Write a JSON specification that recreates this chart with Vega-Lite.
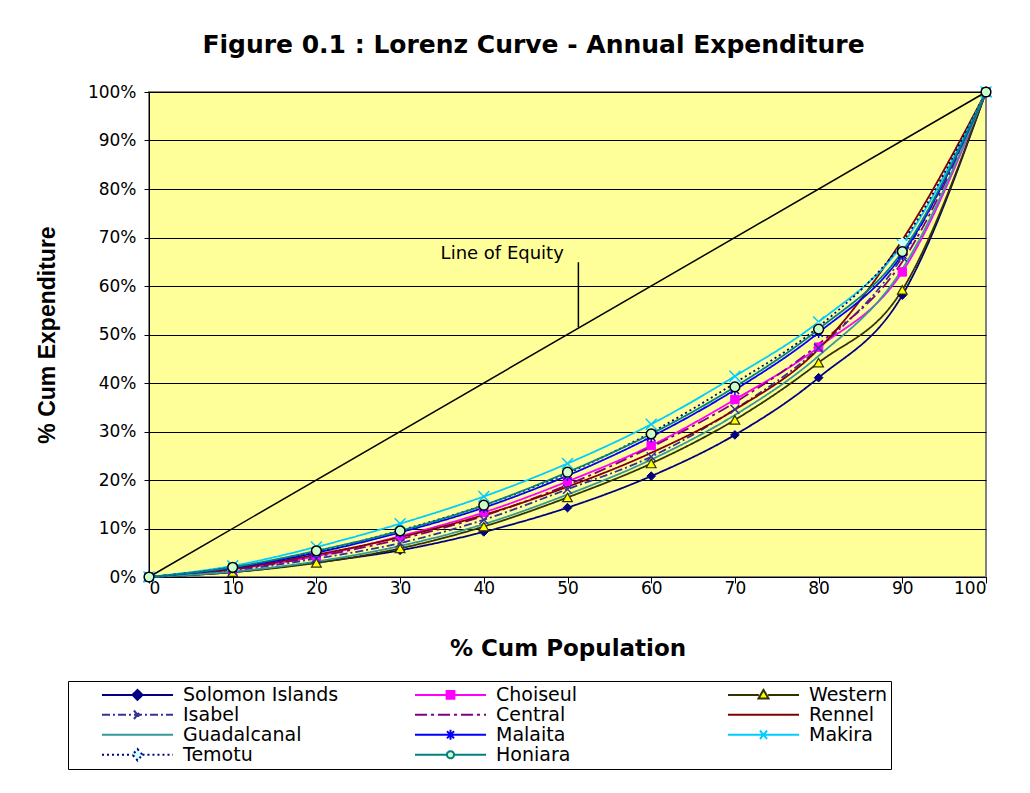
{
  "$schema": "https://vega.github.io/schema/vega-lite/v6.json",
  "autosize": {"type": "none"},
  "width": 837,
  "height": 485,
  "padding": {"left": 149, "top": 92, "right": 44, "bottom": 216},
  "background": "white",
  "title": {
    "text": "Figure 0.1 : Lorenz Curve - Annual Expenditure",
    "font": "DejaVu Sans",
    "fontSize": 25,
    "fontWeight": "bold",
    "color": "black",
    "anchor": "middle",
    "dx": -34,
    "offset": 25
  },
  "datasets": {
    "curves": [
      {"series": "Solomon Islands", "x": 0, "y": 0}, {"series": "Solomon Islands", "x": 10, "y": 1.0}, {"series": "Solomon Islands", "x": 20, "y": 3.0}, {"series": "Solomon Islands", "x": 30, "y": 5.5}, {"series": "Solomon Islands", "x": 40, "y": 9.3}, {"series": "Solomon Islands", "x": 50, "y": 14.3}, {"series": "Solomon Islands", "x": 60, "y": 20.8}, {"series": "Solomon Islands", "x": 70, "y": 29.3}, {"series": "Solomon Islands", "x": 80, "y": 41.1}, {"series": "Solomon Islands", "x": 90, "y": 58.1}, {"series": "Solomon Islands", "x": 100, "y": 100},
      {"series": "Choiseul", "x": 0, "y": 0}, {"series": "Choiseul", "x": 10, "y": 1.6}, {"series": "Choiseul", "x": 20, "y": 4.3}, {"series": "Choiseul", "x": 30, "y": 8.4}, {"series": "Choiseul", "x": 40, "y": 13.3}, {"series": "Choiseul", "x": 50, "y": 19.7}, {"series": "Choiseul", "x": 60, "y": 27.1}, {"series": "Choiseul", "x": 70, "y": 36.6}, {"series": "Choiseul", "x": 80, "y": 47.4}, {"series": "Choiseul", "x": 90, "y": 62.9}, {"series": "Choiseul", "x": 100, "y": 100},
      {"series": "Western", "x": 0, "y": 0}, {"series": "Western", "x": 10, "y": 1.0}, {"series": "Western", "x": 20, "y": 2.9}, {"series": "Western", "x": 30, "y": 5.9}, {"series": "Western", "x": 40, "y": 10.4}, {"series": "Western", "x": 50, "y": 16.4}, {"series": "Western", "x": 60, "y": 23.4}, {"series": "Western", "x": 70, "y": 32.4}, {"series": "Western", "x": 80, "y": 44.2}, {"series": "Western", "x": 90, "y": 59.2}, {"series": "Western", "x": 100, "y": 100},
      {"series": "Isabel", "x": 0, "y": 0}, {"series": "Isabel", "x": 10, "y": 1.3}, {"series": "Isabel", "x": 20, "y": 3.8}, {"series": "Isabel", "x": 30, "y": 7.0}, {"series": "Isabel", "x": 40, "y": 11.8}, {"series": "Isabel", "x": 50, "y": 18.1}, {"series": "Isabel", "x": 60, "y": 24.8}, {"series": "Isabel", "x": 70, "y": 34.6}, {"series": "Isabel", "x": 80, "y": 47.2}, {"series": "Isabel", "x": 90, "y": 66.0}, {"series": "Isabel", "x": 100, "y": 100},
      {"series": "Central", "x": 0, "y": 0}, {"series": "Central", "x": 10, "y": 1.5}, {"series": "Central", "x": 20, "y": 4.2}, {"series": "Central", "x": 30, "y": 7.8}, {"series": "Central", "x": 40, "y": 12.6}, {"series": "Central", "x": 50, "y": 19.0}, {"series": "Central", "x": 60, "y": 26.8}, {"series": "Central", "x": 70, "y": 36.0}, {"series": "Central", "x": 80, "y": 48.0}, {"series": "Central", "x": 90, "y": 65.0}, {"series": "Central", "x": 100, "y": 100},
      {"series": "Rennel", "x": 0, "y": 0}, {"series": "Rennel", "x": 10, "y": 1.7}, {"series": "Rennel", "x": 20, "y": 4.6}, {"series": "Rennel", "x": 30, "y": 8.2}, {"series": "Rennel", "x": 40, "y": 12.8}, {"series": "Rennel", "x": 50, "y": 18.6}, {"series": "Rennel", "x": 60, "y": 25.6}, {"series": "Rennel", "x": 70, "y": 34.5}, {"series": "Rennel", "x": 80, "y": 47.0}, {"series": "Rennel", "x": 90, "y": 69.5}, {"series": "Rennel", "x": 100, "y": 100},
      {"series": "Guadalcanal", "x": 0, "y": 0}, {"series": "Guadalcanal", "x": 10, "y": 1.1}, {"series": "Guadalcanal", "x": 20, "y": 3.2}, {"series": "Guadalcanal", "x": 30, "y": 6.4}, {"series": "Guadalcanal", "x": 40, "y": 10.9}, {"series": "Guadalcanal", "x": 50, "y": 17.0}, {"series": "Guadalcanal", "x": 60, "y": 24.2}, {"series": "Guadalcanal", "x": 70, "y": 33.4}, {"series": "Guadalcanal", "x": 80, "y": 45.6}, {"series": "Guadalcanal", "x": 90, "y": 63.5}, {"series": "Guadalcanal", "x": 100, "y": 100},
      {"series": "Malaita", "x": 0, "y": 0}, {"series": "Malaita", "x": 10, "y": 1.9}, {"series": "Malaita", "x": 20, "y": 5.0}, {"series": "Malaita", "x": 30, "y": 9.2}, {"series": "Malaita", "x": 40, "y": 14.3}, {"series": "Malaita", "x": 50, "y": 20.9}, {"series": "Malaita", "x": 60, "y": 28.9}, {"series": "Malaita", "x": 70, "y": 38.6}, {"series": "Malaita", "x": 80, "y": 50.4}, {"series": "Malaita", "x": 90, "y": 66.5}, {"series": "Malaita", "x": 100, "y": 100},
      {"series": "Makira", "x": 0, "y": 0}, {"series": "Makira", "x": 10, "y": 2.3}, {"series": "Makira", "x": 20, "y": 6.2}, {"series": "Makira", "x": 30, "y": 11.0}, {"series": "Makira", "x": 40, "y": 16.6}, {"series": "Makira", "x": 50, "y": 23.4}, {"series": "Makira", "x": 60, "y": 31.5}, {"series": "Makira", "x": 70, "y": 41.4}, {"series": "Makira", "x": 80, "y": 52.6}, {"series": "Makira", "x": 90, "y": 68.5}, {"series": "Makira", "x": 100, "y": 100},
      {"series": "Temotu", "x": 0, "y": 0}, {"series": "Temotu", "x": 10, "y": 2.0}, {"series": "Temotu", "x": 20, "y": 5.2}, {"series": "Temotu", "x": 30, "y": 9.6}, {"series": "Temotu", "x": 40, "y": 14.8}, {"series": "Temotu", "x": 50, "y": 21.4}, {"series": "Temotu", "x": 60, "y": 29.8}, {"series": "Temotu", "x": 70, "y": 40.0}, {"series": "Temotu", "x": 80, "y": 51.6}, {"series": "Temotu", "x": 90, "y": 69.0}, {"series": "Temotu", "x": 100, "y": 100},
      {"series": "Honiara", "x": 0, "y": 0}, {"series": "Honiara", "x": 10, "y": 2.0}, {"series": "Honiara", "x": 20, "y": 5.4}, {"series": "Honiara", "x": 30, "y": 9.5}, {"series": "Honiara", "x": 40, "y": 14.8}, {"series": "Honiara", "x": 50, "y": 21.6}, {"series": "Honiara", "x": 60, "y": 29.5}, {"series": "Honiara", "x": 70, "y": 39.2}, {"series": "Honiara", "x": 80, "y": 51.1}, {"series": "Honiara", "x": 90, "y": 67.1}, {"series": "Honiara", "x": 100, "y": 100}
    ],
    "equity": [{"x": 0, "y": 0}, {"x": 100, "y": 100}],
    "note": [{"x": 42.2, "y": 66.6, "label": "Line of Equity", "xr": 51.3, "yr": 64.9, "yr2": 51.5}]
  },
  "encoding": {
    "x": {
      "field": "x", "type": "quantitative",
      "scale": {"domain": [0, 100], "nice": false, "zero": false},
      "axis": {
        "values": [0, 10, 20, 30, 40, 50, 60, 70, 80, 90, 100],
        "grid": false,
        "domainColor": "black", "domainWidth": 1,
        "tickColor": "black", "tickSize": 6,
        "labelFont": "DejaVu Sans", "labelFontSize": 17, "labelColor": "black", "labelPadding": -3,
        "title": "% Cum Population",
        "titleFont": "DejaVu Sans", "titleFontSize": 23, "titleFontWeight": "bold", "titleColor": "black",
        "titlePadding": 41
      }
    },
    "y": {
      "field": "y", "type": "quantitative",
      "scale": {"domain": [0, 100], "nice": false, "zero": false},
      "axis": {
        "values": [0, 10, 20, 30, 40, 50, 60, 70, 80, 90, 100],
        "labelExpr": "datum.value + '%'",
        "grid": true, "gridColor": "black", "gridOpacity": 1, "gridWidth": 1,
        "domainColor": "black", "domainWidth": 1,
        "tickColor": "black", "tickSize": 5,
        "labelFont": "DejaVu Sans", "labelFontSize": 17, "labelColor": "black", "labelPadding": 8,
        "title": "% Cum Expenditure",
        "titleFont": "Liberation Sans", "titleFontSize": 23, "titleFontWeight": "bold", "titleColor": "black",
        "titlePadding": 28
      }
    }
  },
  "layer": [
    {
      "data": {"name": "curves"},
      "mark": {"type": "point", "opacity": 0, "filled": false},
      "encoding": {
        "stroke": {
          "field": "series", "type": "nominal", "legend": {"title": null},
          "scale": {
            "domain": ["Solomon Islands", "Choiseul", "Western", "Isabel", "Central", "Rennel", "Guadalcanal", "Malaita", "Makira", "Temotu", "Honiara"],
            "range": ["#000080", "#FF00FF", "#333300", "#333399", "#800080", "#800000", "#339999", "#0000FF", "#00CCFF", "#000080", "#008080"]
          }
        },
        "strokeDash": {
          "field": "series", "type": "nominal", "legend": {"title": null},
          "scale": {
            "domain": ["Solomon Islands", "Choiseul", "Western", "Isabel", "Central", "Rennel", "Guadalcanal", "Malaita", "Makira", "Temotu", "Honiara"],
            "range": [[1, 0], [1, 0], [1, 0], [8, 3, 2, 3], [12, 4, 3, 4], [1, 0], [1, 0], [1, 0], [1, 0], [2, 3], [1, 0]]
          }
        },
        "fill": {
          "field": "series", "type": "nominal", "legend": {"title": null},
          "scale": {
            "domain": ["Solomon Islands", "Choiseul", "Western", "Isabel", "Central", "Rennel", "Guadalcanal", "Malaita", "Makira", "Temotu", "Honiara"],
            "range": ["#000080", "#FF00FF", "#FFFF00", "transparent", "transparent", "transparent", "transparent", "transparent", "transparent", "#CCFFFF", "#CCFFCC"]
          }
        },
        "shape": {
          "field": "series", "type": "nominal", "legend": {"title": null},
          "scale": {
            "domain": ["Solomon Islands", "Choiseul", "Western", "Isabel", "Central", "Rennel", "Guadalcanal", "Malaita", "Makira", "Temotu", "Honiara"],
            "range": [
              "M-1,0L1,0M0,-0.14L0.14,0L0,0.14L-0.14,0Z",
              "M-1,0L1,0M-0.11,-0.11L0.11,-0.11L0.11,0.11L-0.11,0.11Z",
              "M-1,0L-0.13,0M0.13,0L1,0M0,-0.14L0.14,0.1L-0.14,0.1Z",
              "M-1,0L1,0M-0.1,-0.12L0.1,0.12M-0.1,0.12L0.1,-0.12",
              "M-1,0L1,0",
              "M-1,0L1,0",
              "M-1,0L1,0",
              "M-1,0L1,0M-0.1,-0.1L0.1,0.1M-0.1,0.1L0.1,-0.1M0,-0.14L0,0.14",
              "M-1,0L1,0M-0.1,-0.12L0.1,0.12M-0.1,0.12L0.1,-0.12",
              "M-1,0L-0.14,0M0.14,0L1,0M0,-0.16L0.14,0L0,0.16L-0.14,0Z",
              "M-1,0L-0.1,0M0.1,0L1,0M0.1,0A0.1,0.1 0 1 1 -0.1,0A0.1,0.1 0 1 1 0.1,0Z"
            ]
          }
        }
      }
    },
    {
      "data": {"name": "equity"},
      "mark": {"type": "line", "color": "black", "strokeWidth": 1.5},
      "encoding": {}
    },
    {
      "data": {"name": "note"},
      "mark": {"type": "rule", "color": "black", "strokeWidth": 1.5},
      "encoding": {
        "x": {"field": "xr", "type": "quantitative"},
        "y": {"field": "yr", "type": "quantitative"},
        "y2": {"field": "yr2"}
      }
    },
    {
      "data": {"name": "note"},
      "mark": {"type": "text", "font": "DejaVu Sans", "fontSize": 18, "color": "black", "align": "center", "baseline": "middle"},
      "encoding": {"text": {"field": "label"}}
    },
    {
      "data": {"name": "curves"},
      "mark": {"type": "line", "interpolate": "monotone", "strokeWidth": 1.8},
      "encoding": {
        "stroke": {"field": "series", "type": "nominal", "legend": {"title": null}},
        "strokeDash": {"field": "series", "type": "nominal", "legend": {"title": null}}
      }
    },
    {
      "data": {"name": "curves"},
      "transform": [{"filter": "datum.series === 'Solomon Islands'"}],
      "mark": {"type": "point", "shape": "diamond", "filled": true, "fill": "#000080", "stroke": "#000080", "strokeWidth": 1, "size": 75, "opacity": 1},
      "encoding": {}
    },
    {
      "data": {"name": "curves"},
      "transform": [{"filter": "datum.series === 'Choiseul'"}],
      "mark": {"type": "point", "shape": "square", "filled": true, "fill": "#FF00FF", "stroke": "#FF00FF", "strokeWidth": 1, "size": 70, "opacity": 1},
      "encoding": {}
    },
    {
      "data": {"name": "curves"},
      "transform": [{"filter": "datum.series === 'Western'"}],
      "mark": {"type": "point", "shape": "triangle-up", "filled": true, "fill": "#FFFF00", "stroke": "#333300", "strokeWidth": 1.2, "size": 95, "opacity": 1},
      "encoding": {}
    },
    {
      "data": {"name": "curves"},
      "transform": [{"filter": "datum.series === 'Isabel'"}],
      "mark": {"type": "point", "shape": "M-1,-1L1,1M-1,1L1,-1", "filled": false, "stroke": "#333399", "strokeWidth": 1.5, "size": 80, "opacity": 1},
      "encoding": {}
    },
    {
      "data": {"name": "curves"},
      "transform": [{"filter": "datum.series === 'Malaita'"}],
      "mark": {"type": "point", "shape": "M-1,-1L1,1M-1,1L1,-1M0,-1.3L0,1.3", "filled": false, "stroke": "#0000FF", "strokeWidth": 1.5, "size": 70, "opacity": 1},
      "encoding": {}
    },
    {
      "data": {"name": "curves"},
      "transform": [{"filter": "datum.series === 'Makira'"}],
      "mark": {"type": "point", "shape": "M-1,-1L1,1M-1,1L1,-1", "filled": false, "stroke": "#00CCFF", "strokeWidth": 1.5, "size": 120, "opacity": 1},
      "encoding": {}
    },
    {
      "data": {"name": "curves"},
      "transform": [{"filter": "datum.series === 'Temotu'"}],
      "mark": {"type": "point", "shape": "diamond", "filled": true, "fill": "#CCFFFF", "strokeWidth": 0, "size": 110, "opacity": 1},
      "encoding": {}
    },
    {
      "data": {"name": "curves"},
      "transform": [{"filter": "datum.series === 'Honiara'"}],
      "mark": {"type": "point", "shape": "circle", "filled": true, "fill": "#CCFFCC", "stroke": "black", "strokeWidth": 1.5, "size": 95, "opacity": 1},
      "encoding": {}
    }
  ],
  "config": {
    "view": {"fill": "#FFFF99", "stroke": "#808080", "strokeWidth": 2},
    "legend": {
      "orient": "none",
      "direction": "horizontal",
      "legendX": -81,
      "legendY": 589,
      "columns": 3,
      "gridAlign": "all",
      "columnPadding": 46,
      "rowPadding": 0,
      "clipHeight": 19.5,
      "symbolSize": 5041,
      "symbolOffset": 29,
      "symbolStrokeWidth": 2,
      "symbolOpacity": 1,
      "labelFont": "DejaVu Sans",
      "labelFontSize": 19,
      "labelColor": "black",
      "labelOffset": 9,
      "labelLimit": 400,
      "padding": 4,
      "strokeColor": "black",
      "fillColor": "white"
    }
  }
}
